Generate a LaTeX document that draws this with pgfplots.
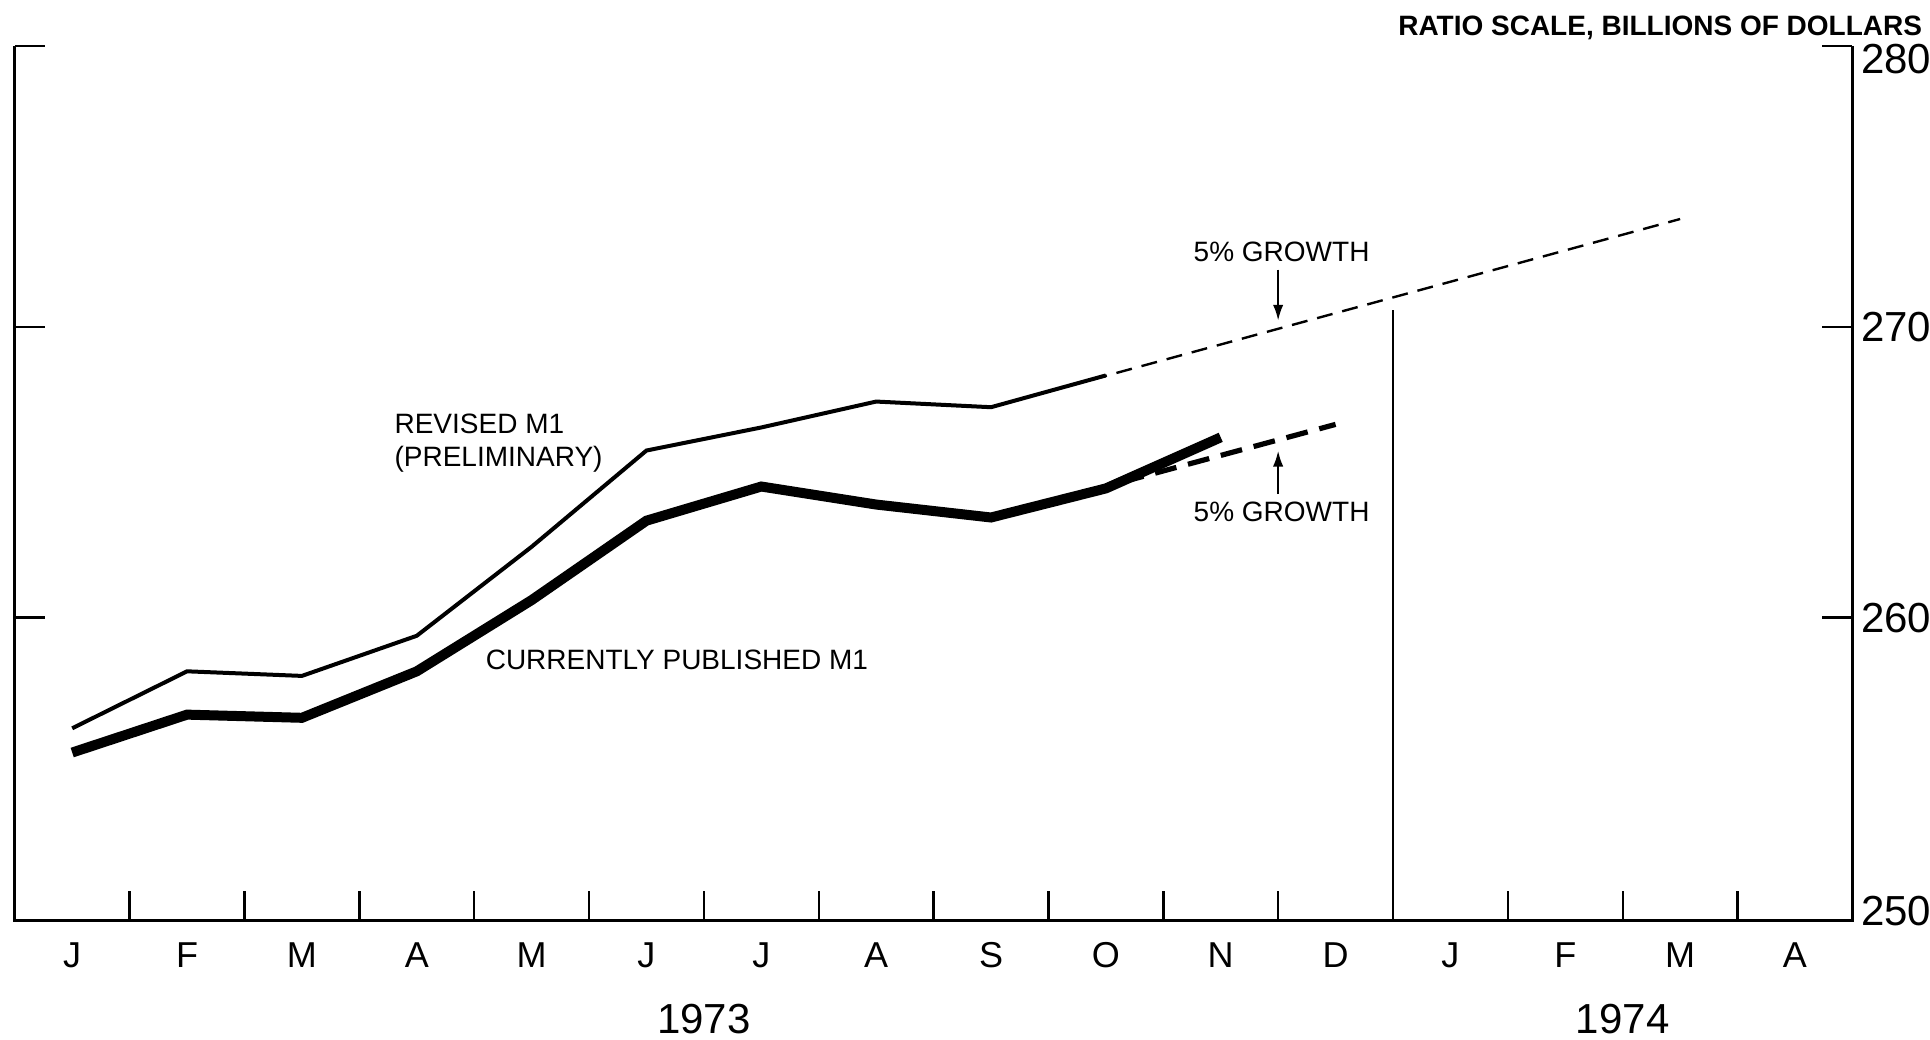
\documentclass[border=0pt]{standalone}
\usepackage{fontspec}
\setmainfont{Liberation Sans}
\usepackage{pgfplots}
\pgfplotsset{compat=1.18}
\usetikzlibrary{arrows.meta}
\begin{document}
\begin{tikzpicture}
\begin{axis}[
  scale only axis, width=459.4pt, height=218.5pt,
  ymode=log, ymin=250, ymax=280, xmin=0, xmax=16,
  clip=false,
  axis line style={draw=none},
  xtick={0.5,1.5,...,15.5},
  xticklabels={J,F,M,A,M,J,J,A,S,O,N,D,J,F,M,A},
  major x tick style={draw=none},
  minor xtick={1,2,...,15},
  minor x tick style={black, line width=0.6pt},
  minor tick length=7.5pt,
  xtick pos=left,
  ytick={250,260,270,280},
  yticklabels={},
  ytick pos=both,
  major tick length=7.5pt,
  major y tick style={black, line width=0.6pt},
  minor y tick num=0,
  tick align=inside,
  xticklabel style={font=\fontsize{9}{10}\selectfont, yshift=-2pt},
]
\coordinate (LL) at (rel axis cs:0,0);
\coordinate (UR) at (rel axis cs:1,1);
\draw[line width=0.8pt] (rel axis cs:0,1) -- (rel axis cs:0,0) -- (rel axis cs:1,0) -- (rel axis cs:1,1);

% right-hand scale labels
\node[font=\fontsize{10.5}{12}\selectfont, anchor=west, inner sep=0pt, yshift=2.4pt] at ([xshift=2pt]axis cs:16,250) {250};
\node[font=\fontsize{10.5}{12}\selectfont, anchor=west, inner sep=0pt] at ([xshift=2pt]axis cs:16,260) {260};
\node[font=\fontsize{10.5}{12}\selectfont, anchor=west, inner sep=0pt] at ([xshift=2pt]axis cs:16,270) {270};
\node[font=\fontsize{10.5}{12}\selectfont, anchor=west, inner sep=0pt, yshift=-3.2pt] at ([xshift=2pt]axis cs:16,280) {280};

% divider between 1973 and 1974
\addplot[black, line width=0.6pt] coordinates {(12,250) (12,270.6)};

% Revised M1 (preliminary)
\addplot[black, line width=1pt] coordinates {
 (0.5,256.3) (1.5,258.2) (2.5,258.05) (3.5,259.4) (4.5,262.4) (5.5,265.7)
 (6.5,266.5) (7.5,267.4) (8.5,267.2) (9.5,268.3)};
% 5% growth from revised
\addplot[black, line width=0.6pt, dash pattern=on 4pt off 2.5pt] coordinates {
 (8.5,267.2) (14.5,273.8)};

% Currently published M1
\addplot[black, line width=2.5pt] coordinates {
 (0.5,255.5) (1.5,256.75) (2.5,256.65) (3.5,258.2) (4.5,260.6) (5.5,263.3)
 (6.5,264.45) (7.5,263.85) (8.5,263.4) (9.5,264.4) (10.5,266.15)};
% 5% growth from currently published
\addplot[black, line width=1.3pt, dash pattern=on 5.5pt off 3pt] coordinates {
 (8.5,263.4) (11.5,266.6)};

% annotations
\node[font=\fontsize{7}{8}\selectfont] at (axis cs:11.03,272.63) {5\% GROWTH};
\draw[-{Latex[length=4pt,width=2.6pt]}, line width=0.6pt] (axis cs:11,272.0) -- (axis cs:11,270.2);
\node[font=\fontsize{7}{8}\selectfont] at (axis cs:11.03,263.6) {5\% GROWTH};
\draw[-{Latex[length=4pt,width=2.6pt]}, line width=0.6pt] (axis cs:11,264.2) -- (axis cs:11,265.7);
\node[font=\fontsize{7}{8.3}\selectfont, anchor=west, align=left, inner sep=0pt] at (axis cs:3.3,265.97) {REVISED M1\\(PRELIMINARY)};
\node[font=\fontsize{7}{8}\selectfont, anchor=west, inner sep=0pt] at (axis cs:4.094,258.6) {CURRENTLY PUBLISHED M1};

\node[font=\fontsize{10.5}{12}\selectfont] at ([yshift=-24.6pt]axis cs:6,250) {1973};
\node[font=\fontsize{10.5}{12}\selectfont] at ([yshift=-24.6pt]axis cs:14,250) {1974};
\end{axis}
\node[font=\bfseries\fontsize{7}{8}\selectfont, anchor=base east, inner sep=0pt] at ([shift={(17.6pt,2.8pt)}]UR) {RATIO SCALE, BILLIONS OF DOLLARS};
\pgfresetboundingbox
\path ([shift={(-3.7pt,-29.6pt)}]LL) rectangle ([shift={(19.4pt,11.7pt)}]UR);
\end{tikzpicture}
\end{document}
